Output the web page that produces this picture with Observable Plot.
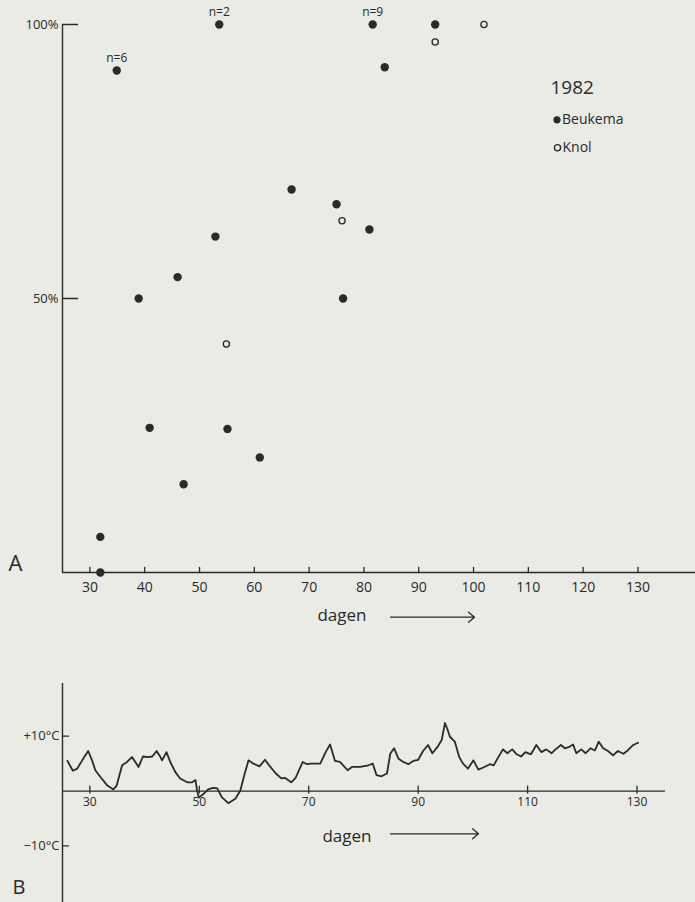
<!DOCTYPE html>
<html>
<head>
<meta charset="utf-8">
<script src="https://cdn.jsdelivr.net/npm/d3@7"></script>
<script src="https://cdn.jsdelivr.net/npm/@observablehq/plot@0.6"></script>
<style>
  html, body { margin: 0; padding: 0; background: #e9ebe4; }
  #chart { width: 695px; height: 902px; }
  #chart svg { display: block; }
</style>
</head>
<body>
<div id="chart"></div>
<script>
// ---- Panel A: kieming (%) per dag ----
const beukemaDay = [31.9, 31.9, 34.9, 38.9, 40.9, 46.0, 47.1, 52.9, 53.6, 55.1, 61.0, 66.8, 75.0, 76.2, 81.0, 81.6, 83.8, 93.0];
const beukemaPct = [0, 6.5, 91.6, 50, 26.4, 53.9, 16.1, 61.3, 100, 26.2, 21.0, 69.9, 67.2, 50, 62.6, 100, 92.2, 100];
const beukemaN   = ["", "", "n=6", "", "", "", "", "", "n=2", "", "", "", "", "", "", "n=9", "", ""];
const knolDay = [54.9, 76.0, 93.0, 101.9];
const knolPct = [41.7, 64.2, 96.8, 100];
const xTicksA = [30, 40, 50, 60, 70, 80, 90, 100, 110, 120, 130];
const yTicksA = [50, 100];
const legendYear = "1982";
const legendLabels = ["Beukema", "Knol"];

// ---- Panel B: temperatuur (°C) per dag ----
const tempDay = [25.9, 26.9, 27.7, 28.6, 29.7, 30.4, 31.0, 31.9, 33.2, 34.3, 34.9, 35.9, 36.8, 37.7, 38.3, 38.9, 39.7, 40.6, 41.4, 42.2, 42.9, 43.2, 44.0, 44.7, 45.6, 46.5, 47.8, 48.7, 49.3, 49.6, 49.9, 50.8, 51.6, 52.5, 53.3, 54.1, 55.3, 56.6, 57.5, 58.3, 59.0, 59.9, 61.0, 62.0, 63.0, 63.9, 65.0, 65.7, 66.8, 67.6, 68.9, 69.7, 70.4, 72.1, 73.1, 73.9, 74.8, 75.7, 76.3, 77.1, 77.9, 79.4, 80.9, 81.7, 82.4, 83.3, 84.3, 84.9, 85.6, 86.4, 87.3, 88.2, 89.1, 90.0, 90.9, 91.8, 92.6, 93.5, 94.3, 94.9, 95.3, 95.8, 96.7, 97.5, 98.2, 99.1, 100.1, 101.0, 101.9, 103.1, 103.8, 104.6, 105.5, 106.3, 107.2, 108.0, 108.8, 109.6, 110.6, 111.6, 112.5, 113.4, 114.4, 115.1, 116.1, 116.8, 117.5, 118.3, 118.9, 119.8, 120.6, 121.5, 122.3, 123.0, 123.8, 124.7, 125.6, 126.5, 127.5, 128.3, 129.3, 130.2];
const tempC   = [5.5, 3.7, 4.1, 5.6, 7.3, 5.6, 3.8, 2.6, 1.0, 0.3, 1.0, 4.7, 5.3, 6.2, 5.3, 4.4, 6.3, 6.2, 6.3, 7.3, 6.2, 5.6, 7.1, 5.3, 3.5, 2.3, 1.6, 1.6, 2.0, 0.1, -1.2, -0.5, 0.3, 0.6, 0.5, -1.1, -2.2, -1.4, 0.1, 3.2, 5.6, 5.0, 4.5, 5.7, 4.4, 3.3, 2.3, 2.4, 1.6, 2.4, 5.3, 4.9, 5.0, 5.0, 7.1, 8.5, 5.5, 5.3, 4.7, 3.8, 4.4, 4.4, 4.7, 5.0, 2.9, 2.7, 3.2, 6.8, 7.8, 5.9, 5.3, 4.9, 5.5, 5.7, 7.3, 8.4, 6.9, 8.0, 9.3, 12.4, 11.4, 9.9, 9.0, 6.2, 5.0, 4.1, 5.6, 3.9, 4.3, 4.9, 4.7, 6.1, 7.6, 6.9, 7.6, 6.7, 6.3, 7.1, 6.7, 8.4, 7.1, 7.6, 6.9, 7.6, 8.4, 7.8, 8.0, 8.5, 6.9, 7.6, 6.9, 7.8, 7.4, 9.0, 7.8, 7.3, 6.5, 7.3, 6.8, 7.4, 8.4, 8.8];
const xTicksB = [30, 50, 70, 90, 110, 130];
const yTicksB = [10, -10];
const axisTitle = "dagen";

// ---- tables for the library ----
const beukema = beukemaDay.map((d, i) => ({day: d, pct: beukemaPct[i], n: beukemaN[i]}));
const knol = knolDay.map((d, i) => ({day: d, pct: knolPct[i]}));
const temps = tempDay.map((d, i) => ({day: d, temp: tempC[i]}));

const ink = "#2a2a2a";
const font = "'Open Sans', 'DejaVu Sans', sans-serif";
const lineShape = {draw(ctx, l) { ctx.moveTo(0, 0); ctx.lineTo(0, -l); }};
const arrowShape = {draw(ctx, l) { ctx.moveTo(0, 0); ctx.lineTo(0, -l); ctx.moveTo(-5, -l + 6); ctx.lineTo(0, -l); ctx.lineTo(5, -l + 6); }};

const xDomA = [25, 140.5];
const chartA = Plot.plot({
  width: 695, height: 650,
  marginLeft: 62, marginRight: 0, marginTop: 24, marginBottom: 78,
  style: {background: "transparent", fontFamily: font, color: ink},
  x: {domain: xDomA},
  y: {domain: [0, 100]},
  marks: [
    Plot.ruleX([xDomA[0]], {stroke: ink, strokeWidth: 1.4}),
    Plot.ruleY([0], {stroke: ink, strokeWidth: 1.4}),
    Plot.vector(xTicksA, {x: d => d, y: 0, length: 5, rotate: 0, anchor: "start", shape: lineShape, stroke: ink, strokeWidth: 1.3}),
    Plot.vector(yTicksA, {x: xDomA[0], y: d => d, length: 15, rotate: 90, anchor: "start", shape: lineShape, stroke: ink, strokeWidth: 1.3}),
    Plot.axisX({ticks: xTicksA, tickSize: 0, tickPadding: 10, label: null, fontSize: 14, fill: ink}),
    Plot.axisY({ticks: yTicksA, tickSize: 0, tickPadding: 4, tickFormat: d => d + "%", label: null, fontSize: 13, fill: ink}),
    Plot.dot(beukema, {x: "day", y: "pct", r: 4.2, fill: ink, stroke: "none"}),
    Plot.dot(knol, {x: "day", y: "pct", r: 3.1, fill: "none", stroke: ink, strokeWidth: 1.3}),
    Plot.text(beukema.filter(d => d.n), {x: "day", y: "pct", text: "n", dy: -12, fontSize: 12, fill: ink}),
    // legend
    Plot.text([legendYear], {frameAnchor: "top-left", text: d => d, dx: 488, dy: 63, textAnchor: "start", lineAnchor: "middle", fontSize: 19, fill: ink}),
    Plot.dot([legendLabels[0]], {frameAnchor: "top-left", dx: 494.5, dy: 95.3, r: 3.6, fill: ink, stroke: "none"}),
    Plot.text([legendLabels[0]], {frameAnchor: "top-left", text: d => d, dx: 499.5, dy: 95, textAnchor: "start", lineAnchor: "middle", fontSize: 14, fill: ink}),
    Plot.dot([legendLabels[1]], {frameAnchor: "top-left", dx: 495, dy: 123.3, r: 3.1, fill: "none", stroke: ink, strokeWidth: 1.3}),
    Plot.text([legendLabels[1]], {frameAnchor: "top-left", text: d => d, dx: 500, dy: 123, textAnchor: "start", lineAnchor: "middle", fontSize: 14, fill: ink}),
    // panel letter and axis title
    Plot.text(["A"], {frameAnchor: "bottom-left", text: d => d, dx: -54, dy: -8.5, textAnchor: "start", lineAnchor: "middle", fontSize: 22, fill: ink}),
    Plot.text([axisTitle], {frameAnchor: "bottom", text: d => d, dx: -12.5, dy: 43, textAnchor: "end", lineAnchor: "middle", fontSize: 17, fill: ink}),
    Plot.vector([axisTitle], {frameAnchor: "bottom", dx: 11.5, dy: 44.7, length: 84, rotate: 90, anchor: "start", shape: arrowShape, stroke: ink, strokeWidth: 1.3})
  ]
});

const xDomB = [25, 135.2];
const chartB = Plot.plot({
  width: 695, height: 252,
  marginLeft: 62, marginRight: 30, marginTop: 33, marginBottom: 0,
  style: {background: "transparent", fontFamily: font, color: ink},
  x: {domain: xDomB, axis: null},
  y: {domain: [-20.3, 19.6]},
  marks: [
    Plot.ruleX([xDomB[0]], {stroke: ink, strokeWidth: 1.4}),
    Plot.ruleY([0], {stroke: ink, strokeWidth: 1.4}),
    Plot.vector(xTicksB, {x: d => d, y: 0, length: 7, rotate: 0, anchor: "start", dy: 2, shape: lineShape, stroke: ink, strokeWidth: 1.3}),
    Plot.vector(yTicksB, {x: xDomB[0], y: d => d, length: 6, rotate: 90, anchor: "start", shape: lineShape, stroke: ink, strokeWidth: 1.3}),
    Plot.text(xTicksB, {x: d => d, y: 0, text: d => String(d), dy: 11.5, lineAnchor: "middle", fontSize: 12, fill: ink}),
    Plot.axisY({ticks: yTicksB, tickSize: 0, tickPadding: 3, tickFormat: d => d > 0 ? `+${d}°C` : `\u2212${-d}°C`, label: null, fontSize: 13, fill: ink}),
    Plot.line(temps, {x: "day", y: "temp", stroke: ink, strokeWidth: 1.8, strokeLinejoin: "round"}),
    Plot.text(["B"], {frameAnchor: "bottom-left", text: d => d, dx: -50, dy: -15, textAnchor: "start", lineAnchor: "middle", fontSize: 20, fill: ink}),
    Plot.text([axisTitle], {frameAnchor: "bottom", text: d => d, dx: 7.5, dy: -66, textAnchor: "end", lineAnchor: "middle", fontSize: 17, fill: ink}),
    Plot.vector([axisTitle], {frameAnchor: "bottom", dx: 26.5, dy: -68.7, length: 88, rotate: 90, anchor: "start", shape: arrowShape, stroke: ink, strokeWidth: 1.3})
  ]
});

const root = document.getElementById("chart");
root.appendChild(chartA);
root.appendChild(chartB);
</script>
</body>
</html>
